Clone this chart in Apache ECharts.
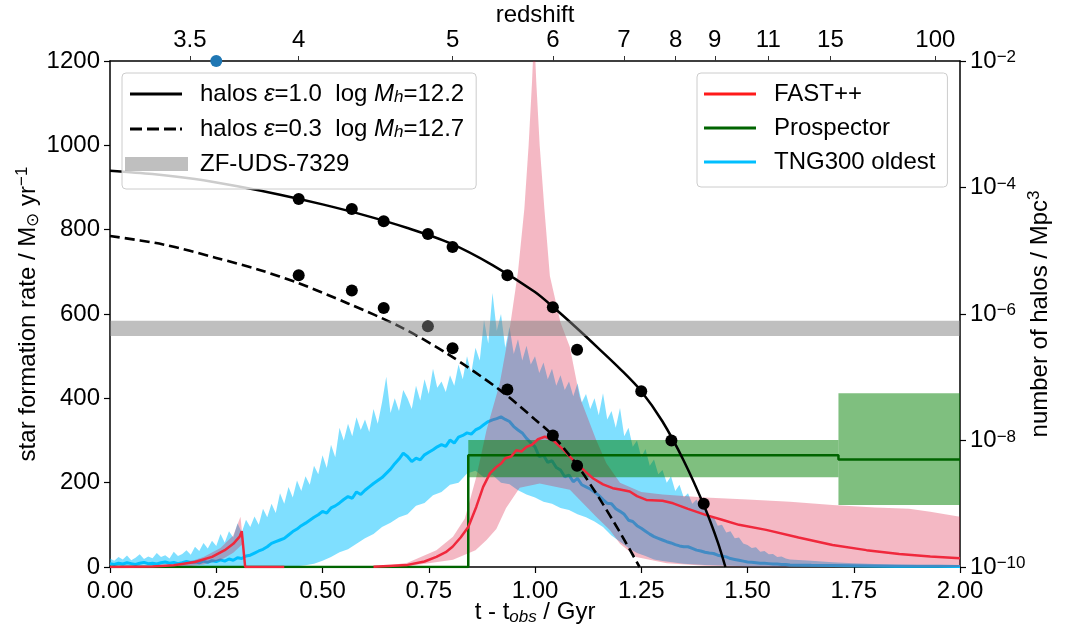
<!DOCTYPE html>
<html><head><meta charset="utf-8">
<script src="https://cdn.jsdelivr.net/npm/echarts@6/dist/echarts.min.js"></script>
<style>html,body{margin:0;padding:0;background:#fff}#c{width:1067px;height:637px}</style>
</head><body><div id="c"></div>
<script>
// ---------------- data ----------------
const redshiftTickT = [0.188, 0.444, 0.806, 1.042, 1.209, 1.331, 1.423, 1.549, 1.695, 1.942];
const redshiftTickLabels = ['3.5', '4', '5', '6', '7', '8', '9', '11', '15', '100'];

const haloSolidT = [0, 0.1, 0.2, 0.3, 0.4, 0.5, 0.6, 0.7, 0.8, 0.9, 1.0, 1.05, 1.1, 1.15, 1.2, 1.25, 1.3, 1.35, 1.4, 1.43, 1.448];
const haloSolidSfr = [940, 932, 920, 903, 883, 860, 834, 804, 768, 716, 652, 610, 565, 518, 470, 417, 345, 252, 140, 59, 0];
const haloDashT = [0, 0.125, 0.25, 0.35, 0.444, 0.56, 0.682, 0.792, 0.917, 1.0, 1.042, 1.1, 1.15, 1.2, 1.246];
const haloDashSfr = [785, 765, 733, 705, 673, 625, 570, 507, 420, 350, 312, 240, 165, 82, 0];

const dotSolidT = [0.444, 0.569, 0.644, 0.748, 0.806, 0.935, 1.042, 1.099, 1.25, 1.321, 1.397];
const dotSolidSfr = [873, 849, 820, 790, 759, 692, 616, 515, 417, 300, 150];
const dotDashT = [0.444, 0.569, 0.644, 0.748, 0.806, 0.935, 1.042, 1.099];
const dotDashSfr = [692, 656, 614, 571, 519, 421, 312, 240];

const zfStart = [0], zfEnd = [2], zfLo = [548], zfHi = [584];

const fastT1 = [0, 0.10, 0.15, 0.20, 0.24, 0.27, 0.29, 0.305, 0.31, 0.318, 0.41];
const fastMed1 = [0, 1, 4, 12, 24, 40, 55, 72, 85, 0, 0];
const fastT2 = [0.62, 0.70, 0.74, 0.768, 0.79, 0.806, 0.825, 0.843, 0.862, 0.878, 0.894, 0.91, 0.921, 0.93, 0.944, 0.956, 0.968, 0.98, 0.993, 1.007, 1.023, 1.042, 1.07, 1.097, 1.12, 1.137, 1.16, 1.183, 1.2, 1.223, 1.24, 1.262, 1.3, 1.325, 1.36, 1.403, 1.44, 1.48, 1.544, 1.62, 1.70, 1.78, 1.857, 1.93, 2.0];
const fastMed2 = [0.5, 5, 13, 24, 35, 48, 70, 95, 143, 190, 222, 238, 246, 258, 262, 277, 274, 285, 290, 303, 309, 301, 275, 246, 225, 210, 196, 187, 184, 179, 168, 159, 157, 151, 138, 123, 112, 100, 88, 70, 52, 40, 31, 25, 21];

const fastBand1T = [0.12, 0.18, 0.22, 0.26, 0.29, 0.307, 0.313];
const fastBand1Hi = [1, 10, 24, 45, 75, 119, 60];
const fastBand1Lo = [0, 1, 6, 16, 34, 50, 55];
const fastHiT2 = [0.55, 0.65, 0.70, 0.768, 0.807, 0.835, 0.862, 0.886, 0.917, 0.94, 0.96, 0.975, 0.985, 0.993, 0.998, 1.003, 1.011, 1.022, 1.035, 1.06, 1.082, 1.105, 1.144, 1.168, 1.2, 1.25, 1.3, 1.4, 1.5, 1.6, 1.7, 1.8, 1.88, 1.93, 2.0];
const fastHi2 = [0, 3, 10, 40, 72, 115, 214, 325, 435, 562, 700, 850, 1000, 1150, 1270, 1150, 1000, 850, 690, 580, 522, 404, 301, 246, 200, 178, 172, 165, 160, 155, 147, 141, 138, 131, 119];
const fastLoT2 = [0.55, 0.7, 0.807, 0.86, 0.886, 0.909, 0.932, 0.964, 1.011, 1.082, 1.144, 1.176, 1.2, 1.238, 1.31, 1.4, 1.5, 1.6, 2.0];
const fastLo2 = [0, 2, 17, 40, 64, 90, 140, 188, 198, 183, 119, 88, 55, 24, 9, 3, 1, 0.5, 0];

const prospStepT = [0, 0.843, 0.843, 1.714, 1.714, 2.0];
const prospStepSfr = [0, 0, 265, 265, 255, 255];
const prospBoxStart = [0.843, 1.714], prospBoxEnd = [1.714, 2.0];
const prospBoxLo = [213, 147], prospBoxHi = [301, 412];

// TNG300: upper envelope and median sampled every 0.01 Gyr from 0 to 1.60, then a tail
const TNG_STEP = 0.01;
const tngHi = [
  20, 15, 24, 18, 27, 16, 22, 30, 19, 25,
  21, 33, 24, 28, 20, 36, 26, 31, 40, 29,
  48, 38, 57, 44, 62, 50, 78, 58, 85, 70,
  104, 82, 112, 95, 120, 100, 138, 118, 150, 128,
  175, 150, 190, 165, 205, 180, 215, 195, 240, 220,
  265, 235, 290, 260, 330, 300, 340, 310, 355, 325,
  350, 320, 375, 340, 390, 451, 365, 400, 370, 420,
  400, 375, 430, 395, 445, 410, 470, 425, 440, 415,
  455, 430, 480, 445, 500, 460, 520, 490, 586, 530,
  650, 560, 600, 520, 570, 505, 540, 490, 525, 480,
  500, 460, 485, 445, 470, 430, 455, 420, 440, 405,
  436, 390, 410, 375, 400, 360, 412, 350, 370, 330,
  377, 310, 330, 285, 300, 260, 280, 240, 255, 220,
  230, 200, 215, 180, 195, 165, 175, 150, 160, 140,
  135, 115, 120, 98, 100, 82, 85, 68, 70, 56,
  52, 45, 47, 36, 38, 30, 31, 24, 25, 20,
  18];
const tngMed = [
  8, 6, 9, 7, 10, 8, 6, 9, 11, 8,
  9, 7, 10, 12, 9, 11, 8, 10, 13, 11,
  12, 10, 14, 11, 15, 13, 17, 14, 19, 16,
  22, 20, 26, 28, 33, 38, 42, 48, 56, 60,
  64, 68, 76, 84, 90, 98, 104, 111, 118, 124,
  132, 128, 140, 145, 152, 160, 167, 163, 178, 172,
  182, 190, 198, 205, 212, 222, 232, 245, 256, 270,
  262, 250, 258, 254, 266, 272, 278, 285, 290, 286,
  301, 294, 308, 312, 318, 315, 325, 330, 338, 345,
  349, 352, 356, 350, 345, 333, 325, 318, 305, 295,
  285, 262, 265, 248, 252, 236, 230, 214, 218, 202,
  210, 195, 190, 185, 178, 170, 160, 151, 150, 138,
  132, 125, 111, 108, 98, 92, 85, 78, 72, 68,
  64, 60, 57, 53, 50, 48, 48, 44, 40, 38,
  35, 33, 32, 28, 26, 24, 20, 18, 16, 14,
  12, 11, 10, 9, 9, 8, 7, 7, 6, 6,
  5];
const tngTailT = [1.65, 1.7, 1.75, 1.8, 1.85, 1.9, 1.95, 2.0];
const tngHiTail = [15, 11, 9, 7, 6, 5, 4, 3];
const tngMedTail = [4, 3.5, 3, 2.5, 2, 2, 1.5, 1];
const tngLoT = [0, 0.40, 0.44, 0.46, 0.48, 0.50, 0.52, 0.54, 0.56, 0.58, 0.60, 0.62, 0.64, 0.66, 0.68, 0.70, 0.72, 0.74, 0.76, 0.78, 0.80, 0.82, 0.84, 0.86, 0.88, 0.90, 0.92, 0.94, 0.96, 0.98, 1.00, 1.02, 1.04, 1.06, 1.08, 1.10, 1.12, 1.14, 1.16, 1.18, 1.20, 1.22, 1.24, 1.26, 1.28, 1.30, 1.35, 1.40, 1.50, 1.60, 2.00];
const tngLo = [0, 0, 2, 4, 8, 15, 24, 35, 42, 55, 68, 78, 95, 105, 118, 125, 145, 152, 170, 178, 195, 200, 222, 228, 212, 218, 200, 196, 182, 172, 165, 155, 150, 140, 135, 125, 118, 108, 95, 75, 60, 45, 33, 26, 18, 14, 8, 5, 2, 1, 0];
const tngDotT = [0.25], tngDotSfr = [1200];

// ---------------- build ----------------
const FONT = '"Liberation Sans", Arial, Helvetica, sans-serif';
const FS = 24, FSS = 17;
const pairs = (t, y) => t.map((v, i) => [v, y[i]]);
const tngGridT = tngHi.map((_, i) => +(i * TNG_STEP).toFixed(2));
const tngUpT = tngGridT.concat(tngTailT), tngUpY = tngHi.concat(tngHiTail);
const tngMedT = tngGridT.concat(tngTailT), tngMedY = tngMed.concat(tngMedTail);

function polySeries(name, z, color, upT, upY, loT, loY) {
  return {
    type: 'custom', name, z, clip: true, silent: true, xAxisIndex: 0, yAxisIndex: 0,
    data: [[upT[0], upY[0]]],
    renderItem: function (params, api) {
      const pts = [];
      for (let i = 0; i < upT.length; i++) pts.push(api.coord([upT[i], upY[i]]));
      for (let i = loT.length - 1; i >= 0; i--) pts.push(api.coord([loT[i], loY[i]]));
      return { type: 'polygon', shape: { points: pts }, style: { fill: color } };
    }
  };
}
function boxSeries(name, z, color, starts, ends, los, his) {
  return {
    type: 'custom', name, z, clip: true, silent: true, xAxisIndex: 0, yAxisIndex: 0,
    data: starts.map((s, i) => [s, los[i], ends[i], his[i]]),
    encode: { x: [0, 2], y: [1, 3] },
    renderItem: function (params, api) {
      const a = api.coord([api.value(0), api.value(1)]);
      const b = api.coord([api.value(2), api.value(3)]);
      return { type: 'polygon', shape: { points: [[a[0], a[1]], [b[0], a[1]], [b[0], b[1]], [a[0], b[1]]] }, style: { fill: color } };
    }
  };
}

const PT = 'M0,0L0.01,0L0,0.01Z M70,14L69.99,14L70,13.99Z ';
const ICON_SOLID = 'path://' + PT + 'M5,5.5L57,5.5L57,8.5L5,8.5Z';
const ICON_DASH = 'path://' + PT + 'M5,5.5L17,5.5L17,8.5L5,8.5Z M22,5.5L34,5.5L34,8.5L22,8.5Z M39,5.5L51,5.5L51,8.5L39,8.5Z M55,5.5L57,5.5L57,8.5L55,8.5Z';
const ICON_BAR = 'path://' + PT + 'M0,0L63,0L63,14L0,14Z';

const COL_RED = '#f0283c', COL_GREEN = '#006400', COL_TNG = '#00bfff';
const legendLabels = {
  solid: '{r|halos }{i|ε}{r|=1.0  log }{i|M}{s|h}{r|=12.2}',
  dashed: '{r|halos }{i|ε}{r|=0.3  log }{i|M}{s|h}{r|=12.7}',
  zf: '{r|ZF-UDS-7329}',
  fast: '{r|FAST++}', prosp: '{r|Prospector}', tng: '{r|TNG300 oldest}'
};
const legendText = {
  fontSize: FS, color: '#000', fontFamily: FONT, lineHeight: 24,
  rich: {
    r: { fontSize: FS, color: '#000', fontFamily: FONT, lineHeight: 24 },
    i: { fontSize: FS, color: '#000', fontFamily: FONT, fontStyle: 'italic', lineHeight: 24 },
    s: { fontSize: FSS, color: '#000', fontFamily: FONT, fontStyle: 'italic', lineHeight: 14, verticalAlign: 'bottom' }
  }
};
function legendBox(left, data, padding, gap) {
  return {
    orient: 'vertical', left, top: 73, itemWidth: 70, itemHeight: 14, itemGap: gap,
    padding, backgroundColor: 'rgba(255,255,255,0.8)', borderColor: '#cccccc', borderWidth: 1, borderRadius: 4,
    selectedMode: false, z: 20, textStyle: legendText, formatter: n => legendLabels[n], data
  };
}
const axisText = { color: '#000', fontSize: FS, fontFamily: FONT };
const lineAx = { show: true, onZero: false, lineStyle: { color: '#000', width: 1.5 } };
const tickAx = { show: true, inside: false, length: 6, lineStyle: { color: '#000', width: 1.2 } };
const richName = {
  s: { fontSize: FSS, color: '#000', fontFamily: FONT, lineHeight: 16, verticalAlign: 'bottom' },
  si: { fontSize: FSS, color: '#000', fontFamily: FONT, fontStyle: 'italic', lineHeight: 16, verticalAlign: 'bottom' },
  p: { fontSize: FSS, color: '#000', fontFamily: FONT, lineHeight: 16, verticalAlign: 'top' }
};
const nameStyle = Object.assign({}, axisText, { lineHeight: 28, rich: richName });

const option = {
  animation: false,
  textStyle: { fontFamily: FONT },
  grid: { left: 110, right: 107, top: 61, bottom: 70, containLabel: false, outerBoundsMode: 'none' },
  legend: [
    legendBox(122, [
      { name: 'solid', icon: ICON_SOLID, itemStyle: { color: '#000', borderWidth: 0 } },
      { name: 'dashed', icon: ICON_DASH, itemStyle: { color: '#000', borderWidth: 0 } },
      { name: 'zf', icon: ICON_BAR, itemStyle: { color: 'rgba(128,128,128,0.5)', borderWidth: 0 } }
    ], [9, 12, 13, 3], 11),
    legendBox(697, [
      { name: 'fast', icon: ICON_SOLID, itemStyle: { color: '#ff1a1a', borderWidth: 0 } },
      { name: 'prosp', icon: ICON_SOLID, itemStyle: { color: COL_GREEN, borderWidth: 0 } },
      { name: 'tng', icon: ICON_SOLID, itemStyle: { color: COL_TNG, borderWidth: 0 } }
    ], [9, 12, 13, 2], 10)
  ],
  xAxis: [
    {
      type: 'value', position: 'bottom', min: 0, max: 2, interval: 0.25,
      axisLine: lineAx, axisTick: tickAx, splitLine: { show: false },
      axisLabel: Object.assign({}, axisText, { margin: 12, formatter: v => v.toFixed(2) }),
      name: 't - t{si|obs} / Gyr', nameLocation: 'middle', nameGap: 31, nameMoveOverlap: false, nameTextStyle: nameStyle
    },
    {
      type: 'value', position: 'top', min: 0, max: 2,
      axisLine: lineAx, splitLine: { show: false },
      axisTick: { show: true, length: 5, customValues: redshiftTickT, lineStyle: { color: '#333', width: 1 } },
      axisLabel: Object.assign({}, axisText, {
        margin: 9, customValues: redshiftTickT,
        formatter: v => { const i = redshiftTickT.findIndex(t => Math.abs(t - v) < 1e-6); return i >= 0 ? redshiftTickLabels[i] : ''; }
      }),
      name: 'redshift', nameLocation: 'middle', nameGap: 32, nameMoveOverlap: false, nameTextStyle: nameStyle
    }
  ],
  yAxis: [
    {
      type: 'value', position: 'left', min: 0, max: 1200, interval: 200,
      axisLine: lineAx, axisTick: tickAx, splitLine: { show: false },
      axisLabel: Object.assign({}, axisText, { margin: 10, formatter: v => String(v) }),
      name: 'star formation rate / M{s|⊙} yr{p|−1}', nameLocation: 'middle', nameGap: 68, nameMoveOverlap: false, nameTextStyle: nameStyle
    },
    {
      type: 'value', position: 'right', min: -10, max: -2, interval: 2,
      axisLine: lineAx, axisTick: tickAx, splitLine: { show: false },
      axisLabel: {
        margin: 10, formatter: v => '{b|10}{s|−' + Math.abs(v) + '}',
        rich: {
          b: { fontSize: FS, color: '#000', fontFamily: FONT, lineHeight: 24, padding: [10, 0, 10, 0] },
          s: { fontSize: FSS, color: '#000', fontFamily: FONT, lineHeight: 22, verticalAlign: 'top' }
        }
      },
      name: 'number of halos / Mpc{p|3}', nameLocation: 'middle', nameGap: 66, nameMoveOverlap: false, nameTextStyle: nameStyle
    }
  ],
  series: [
    polySeries('tngBand', 1, 'rgba(0,191,255,0.5)', tngUpT, tngUpY, tngLoT, tngLo),
    { type: 'line', name: 'tng', z: 2, data: pairs(tngMedT, tngMedY), showSymbol: false, symbol: 'none',
      lineStyle: { color: COL_TNG, width: 3 }, itemStyle: { color: COL_TNG }, silent: true },
    polySeries('fastBand1', 3, 'rgba(220,20,60,0.3)', fastBand1T, fastBand1Hi, fastBand1T, fastBand1Lo),
    polySeries('fastBand2', 3, 'rgba(220,20,60,0.3)', fastHiT2, fastHi2, fastLoT2, fastLo2),
    boxSeries('prospBand', 4, 'rgba(0,128,0,0.5)', prospBoxStart, prospBoxEnd, prospBoxLo, prospBoxHi),
    { type: 'line', name: 'prosp', z: 5, data: pairs(prospStepT, prospStepSfr), showSymbol: false, symbol: 'none',
      lineStyle: { color: COL_GREEN, width: 2.5 }, itemStyle: { color: COL_GREEN }, silent: true },
    { type: 'line', name: 'fast', z: 6, data: pairs(fastT1, fastMed1).concat([[null, null]], pairs(fastT2, fastMed2)),
      connectNulls: false, showSymbol: false, symbol: 'none',
      lineStyle: { color: COL_RED, width: 2.5 }, itemStyle: { color: COL_RED }, silent: true },
    { type: 'line', name: 'dashed', z: 7, data: pairs(haloDashT, haloDashSfr), smooth: 0.3, showSymbol: false, symbol: 'none',
      lineStyle: { color: '#000', width: 2.6, type: [10, 5] }, itemStyle: { color: '#000' }, silent: true },
    { type: 'line', name: 'solid', z: 7, data: pairs(haloSolidT, haloSolidSfr), smooth: 0.3, showSymbol: false, symbol: 'none',
      lineStyle: { color: '#000', width: 2.5 }, itemStyle: { color: '#000' }, silent: true },
    { type: 'scatter', name: 'dotsSolid', z: 8, data: pairs(dotSolidT, dotSolidSfr), symbolSize: 12, itemStyle: { color: '#000', opacity: 1 }, silent: true },
    { type: 'scatter', name: 'dotsDash', z: 8, data: pairs(dotDashT, dotDashSfr), symbolSize: 12, itemStyle: { color: '#000', opacity: 1 }, silent: true },
    { type: 'scatter', name: 'tngDot', z: 8, data: pairs(tngDotT, tngDotSfr), symbolSize: 12, clip: true, itemStyle: { color: '#1f77b4', opacity: 1 }, silent: true },
    boxSeries('zf', 9, 'rgba(128,128,128,0.5)', zfStart, zfEnd, zfLo, zfHi)
  ]
};
const chart = echarts.init(document.getElementById('c'), null, { renderer: 'canvas' });
chart.setOption(option);
</script></body></html>
